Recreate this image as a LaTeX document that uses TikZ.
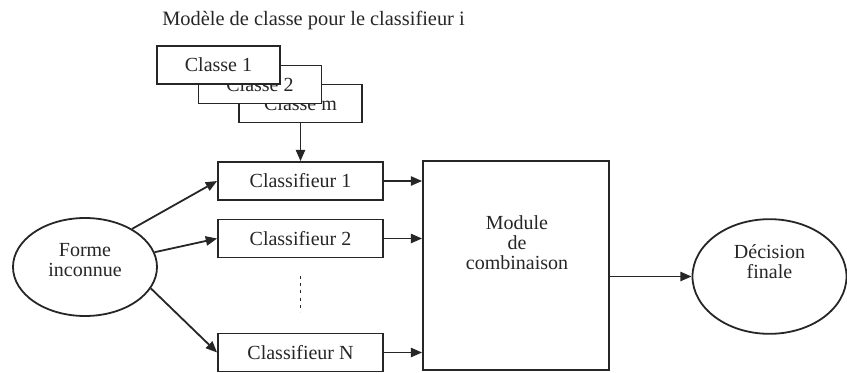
\documentclass[tikz,border=0pt]{standalone}
\usepackage{fontspec}
\setmainfont{Liberation Serif}
\usetikzlibrary{shapes.geometric,arrows.meta}
\begin{document}
\begin{tikzpicture}[x=0.75pt,y=-0.75pt,
  every node/.style={font=\fontsize{15}{15}\selectfont, text=black!85},
  line/.style={draw=black!85, line width=1.35pt},
  arr/.style={line, -{Triangle[length=8.5pt,width=7pt]}},
  classbox/.style={line, fill=white, rectangle, minimum width=92.25pt, minimum height=28.5pt, inner sep=0pt},
  clfbox/.style={line, fill=white, rectangle, minimum width=123.75pt, minimum height=28.5pt, inner sep=0pt},
  oval/.style={line, ellipse, inner sep=0pt},
  lbl/.style={align=center, inner sep=0pt}]
\useasboundingbox (0,0) rectangle (847,372);

% title
\node[anchor=west, inner sep=0pt, font=\fontsize{15.3}{15.3}\selectfont] (title) at (162,20) {Modèle de classe pour le classifieur i};

% stacked class models
\node[classbox] (cm) at (300.5,103.5) {Classe m};
\node[classbox] (c2) at (260,84.5) {Classe 2};
\node[classbox] (c1) at (218.5,65) {Classe 1};

% classifiers
\node[clfbox] (cl1) at (300.5,181) {Classifieur 1};
\node[clfbox] (cl2) at (300.5,238.5) {Classifieur 2};
\node[clfbox] (cln) at (300.5,352.5) {Classifieur N};
\coordinate (d1) at (300.5,276);
\coordinate (d2) at (300.5,312);
\draw[line, dash pattern=on 2.2pt off 3.2pt] (d1) -- (d2);

% combination module
\node[line, rectangle, minimum width=139.5pt, minimum height=156.75pt, inner sep=0pt] (mod) at (516,265.5) {};
\node[lbl] (modtxt) at (517,243) {Module\\de\\combinaison};

% input and output ellipses
\node[oval, minimum width=108pt, minimum height=73.5pt] (forme) at (85,267) {};
\node[lbl] (formetxt) at (85,260) {Forme\\inconnue};
\node[oval, minimum width=115.5pt, minimum height=86pt] (dec) at (769.5,276.5) {};
\node[lbl] (dectxt) at (769.5,262) {Décision\\finale};

% connectors
\draw[arr] (cm.south) -- (cl1.north);
\draw[arr] (forme.39) -- (cl1.west);
\draw[arr] (forme.12) -- (cl2.west);
\draw[arr] (forme.-18) -- (cln.west);
\draw[arr] (cl1.east) -- (cl1.east -| mod.west);
\draw[arr] (cl2.east) -- (cl2.east -| mod.west);
\draw[arr] (cln.east) -- (cln.east -| mod.west);
\draw[arr] (mod.east |- dec.west) -- (dec.west);
\end{tikzpicture}
\end{document}
